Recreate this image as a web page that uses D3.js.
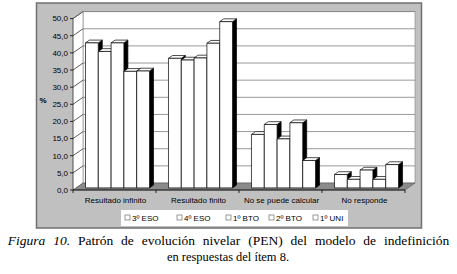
<!DOCTYPE html>
<html>
<head>
<meta charset="utf-8">
<script src="https://cdn.jsdelivr.net/npm/d3@7"></script>
<style>
  body { margin: 0; background: #fff; }
  svg { display: block; }
  .sans { font-family: "Liberation Sans", Arial, sans-serif; }
  .serif { font-family: "Liberation Serif", "Times New Roman", serif; }
</style>
</head>
<body>
<div id="chart"></div>
<script>
// datos (%)
const categories = ["Resultado infinito", "Resultado finito", "No se puede calcular", "No responde"];
const series = ["3º ESO", "4º ESO", "1º BTO", "2º BTO", "1º UNI"];
const eso3 = [42.3, 37.8, 15.6, 3.9];
const eso4 = [39.8, 37.3, 18.5, 2.5];
const bto1 = [42.3, 37.9, 14.3, 5.2];
const bto2 = [34.0, 42.2, 19.0, 2.5];
const uni1 = [34.1, 48.5, 8.0, 6.8];
const yTicks = [0, 5, 10, 15, 20, 25, 30, 35, 40, 45, 50];

const values = [eso3, eso4, bto1, bto2, uni1];

const W = 457, H = 274;
const svg = d3.select("#chart").append("svg")
  .attr("width", W).attr("height", H);

// profundidad 3D (desplazamiento del fondo)
const DX = 10, DY = -7;
const off = f => [DX * f, DY * f];

const x = d3.scaleBand().domain(categories).range([73, 405]);
const xs = d3.scaleBand().domain(series).range([0, x.bandwidth()]).paddingOuter(0.74);
const y = d3.scaleLinear().domain([0, 50]).range([190, 18.6]);
const fmt = v => d3.format(".1f")(v).replace(".", ",");

// marco gris
svg.append("rect")
  .attr("x", 36.5).attr("y", 3).attr("width", 385).attr("height", 225)
  .attr("fill", "#c0c0c0").attr("stroke", "#707070").attr("stroke-width", 1.5);

const pts = a => a.map(p => p.join(",")).join(" ");
const [bx, by] = off(1);
const x0 = x.range()[0], x1 = x.range()[1];

// pared del fondo
svg.append("rect")
  .attr("x", x0 + bx).attr("y", y(50) + by)
  .attr("width", x1 - x0).attr("height", y(0) - y(50))
  .attr("fill", "#fff").attr("stroke", "#808080").attr("stroke-width", 0.6);

// pared lateral
svg.append("polygon")
  .attr("points", pts([[x0, y(0)], [x0, y(50)], [x0 + bx, y(50) + by], [x0 + bx, y(0) + by]]))
  .attr("fill", "#fff").attr("stroke", "#808080").attr("stroke-width", 0.6);

// suelo
svg.append("polygon")
  .attr("points", pts([[x0, y(0)], [x1, y(0)], [x1 + bx, y(0) + by], [x0 + bx, y(0) + by]]))
  .attr("fill", "#8a8a8a").attr("stroke", "#555").attr("stroke-width", 0.6);

// rejilla
const grid = svg.append("g").attr("stroke", "#808080").attr("stroke-width", 0.8);
yTicks.filter(t => t > 0).forEach(t => {
  grid.append("line")
    .attr("x1", x0 + bx).attr("x2", x1 + bx)
    .attr("y1", y(t) + by).attr("y2", y(t) + by);
  grid.append("line")
    .attr("x1", x0).attr("x2", x0 + bx)
    .attr("y1", y(t)).attr("y2", y(t) + by)
    .attr("stroke", "#333");
});

// eje Y
const yAxis = svg.append("g").attr("class", "sans").attr("font-size", 8);
yAxis.append("line").attr("x1", x0).attr("x2", x0).attr("y1", y(0)).attr("y2", y(50))
  .attr("stroke", "#333").attr("stroke-width", 0.6);
yTicks.forEach(t => {
  yAxis.append("line").attr("x1", x0 - 3).attr("x2", x0)
    .attr("y1", y(t)).attr("y2", y(t)).attr("stroke", "#000").attr("stroke-width", 0.8);
  yAxis.append("text").attr("x", x0 - 5).attr("y", y(t)).attr("dy", "0.35em")
    .attr("text-anchor", "end").text(fmt(t));
});
yAxis.append("text").attr("x", 43).attr("y", 103).attr("text-anchor", "middle")
  .attr("font-weight", "bold").text("%");

// eje X
const xAxis = svg.append("g").attr("class", "sans").attr("font-size", 8);
xAxis.append("line").attr("x1", x0).attr("x2", x1).attr("y1", y(0)).attr("y2", y(0))
  .attr("stroke", "#000").attr("stroke-width", 0.8);
categories.concat([null]).forEach(c => {
  const xx = c ? x(c) : x1;
  xAxis.append("line").attr("x1", xx).attr("x2", xx).attr("y1", y(0)).attr("y2", y(0) + 3)
    .attr("stroke", "#000").attr("stroke-width", 0.8);
});
categories.forEach(c => {
  xAxis.append("text").attr("x", x(c) + x.bandwidth() / 2 + 1).attr("y", 203)
    .attr("text-anchor", "middle").text(c);
});

// barras 3D
const [fx, fy] = off(0.3);
const [kx, ky] = off(0.7);
const bars = svg.append("g").attr("stroke", "#000").attr("stroke-width", 0.7).attr("stroke-linejoin", "round");
categories.forEach((c, ci) => {
  series.forEach((s, si) => {
    const v = values[si][ci];
    const l = x(c) + xs(s) + fx, r = l + xs.bandwidth();
    const t = y(v) + fy, b = y(0) + fy;
    const dx = kx - fx, dy = ky - fy;
    const g = bars.append("g");
    g.append("polygon").attr("points", pts([[r, b], [r, t], [r + dx, t + dy], [r + dx, b + dy]]))
      .attr("fill", "#000");
    g.append("polygon").attr("points", pts([[l, t], [r, t], [r + dx, t + dy], [l + dx, t + dy]]))
      .attr("fill", "#fff");
    g.append("rect").attr("x", l).attr("y", t).attr("width", r - l).attr("height", b - t)
      .attr("fill", "#fff");
  });
});

// leyenda
const leg = svg.append("g").attr("class", "sans").attr("font-size", 8);
leg.append("rect").attr("x", 121).attr("y", 210).attr("width", 227).attr("height", 16).attr("fill", "#fff");
const legX = [125, 177, 226, 269, 313];
series.forEach((s, i) => {
  leg.append("rect").attr("x", legX[i]).attr("y", 215).attr("width", 5).attr("height", 5)
    .attr("fill", "#fff").attr("stroke", "#555").attr("stroke-width", 0.6);
  leg.append("text").attr("x", legX[i] + 7).attr("y", 221).text(s);
});

// pie de figura (primera linea justificada)
const cap = svg.append("g").attr("class", "serif")
  .attr("font-size", 13.5).attr("text-anchor", "middle").attr("fill", "#000");
const t1 = cap.append("text").attr("x", 228.5).attr("y", 245).attr("word-spacing", 4.5);
t1.append("tspan").attr("font-style", "italic").text("Figura 10.");
t1.append("tspan").text(" Patrón de evolución nivelar (PEN) del modelo de indefinición");
cap.append("text").attr("x", 228).attr("y", 261)
  .attr("textLength", 122).attr("lengthAdjust", "spacingAndGlyphs")
  .text("en respuestas del ítem 8.");
</script>
</body>
</html>
